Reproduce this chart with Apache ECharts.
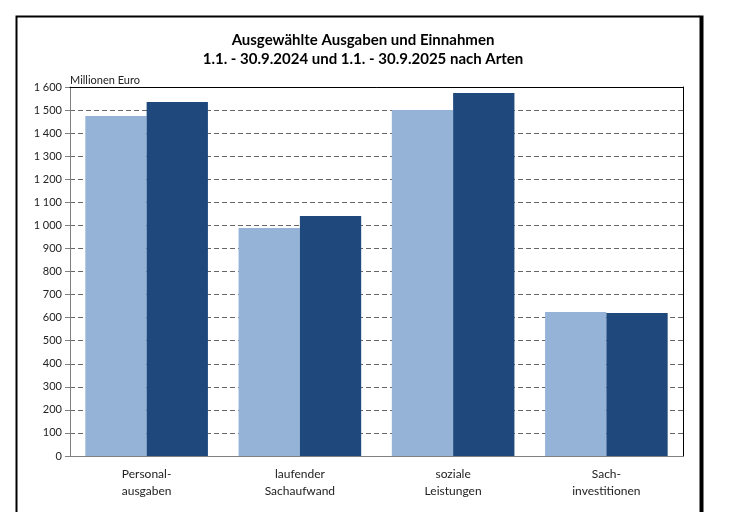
<!DOCTYPE html>
<html>
<head>
<meta charset="utf-8">
<script src="https://cdn.jsdelivr.net/npm/echarts@6/dist/echarts.min.js"></script>
<style>
  html, body { margin: 0; padding: 0; background: #fff; }
  #chart { width: 732px; height: 512px; }
</style>
</head>
<body>
<div id="chart"></div>
<script>
// Kategorien und Werte (Millionen Euro)
var categories = ['Personal-\nausgaben', 'laufender\nSachaufwand', 'soziale\nLeistungen', 'Sach-\ninvestitionen'];
var werte2024 = [1474, 989, 1500, 624];
var werte2025 = [1535, 1041, 1574, 620];
var seriesNames = ['1.1. - 30.9.2024', '1.1. - 30.9.2025'];

var font = 'Lato, "Open Sans", sans-serif';

var myChart = echarts.init(document.getElementById('chart'));
var option = {
  animation: false,
  textStyle: { fontFamily: font },
  title: {
    text: 'Ausgewählte Ausgaben und Einnahmen\n1.1. - 30.9.2024 und 1.1. - 30.9.2025 nach Arten',
    left: 358,
    textAlign: 'center',
    top: 26,
    textStyle: { fontSize: 15, fontWeight: 'bold', color: '#000', lineHeight: 19, fontFamily: font }
  },
  graphic: [
    {
      // äußerer Rahmen
      type: 'polyline',
      shape: { points: [[16.5, 520], [16.5, 16.5], [700, 16.5]] },
      style: { stroke: '#000', lineWidth: 2, fill: null }
    },
    {
      type: 'line',
      shape: { x1: 701.5, y1: 15.5, x2: 701.5, y2: 520 },
      style: { stroke: '#000', lineWidth: 4 }
    }
  ],
  grid: {
    left: 70, right: 49, top: 87, bottom: 56
  },
  xAxis: [
    {
      type: 'category',
      data: categories,
      axisLine: { lineStyle: { color: '#808080', width: 1 } },
      axisTick: { show: false },
      axisLabel: { color: '#222', fontSize: 12, lineHeight: 17, margin: 10, fontFamily: font }
    },
    {
      // obere Rahmenlinie
      type: 'category',
      position: 'top',
      z: 5,
      data: categories,
      axisLine: { onZero: false, lineStyle: { color: '#000', width: 1 } },
      axisTick: { show: false },
      axisLabel: { show: false }
    }
  ],
  yAxis: [
    {
      type: 'value',
      min: 0,
      max: 1600,
      interval: 100,
      name: 'Millionen Euro',
      nameLocation: 'end',
      nameGap: 1,
      nameTextStyle: { align: 'left', color: '#222', fontSize: 11, padding: [0, 0, 0, 0], fontFamily: font },
      axisLine: { show: true, onZero: false, lineStyle: { color: '#808080', width: 1 } },
      axisTick: { show: true, length: 5, lineStyle: { color: '#808080' } },
      axisLabel: {
        color: '#222', fontSize: 11, margin: 8, fontFamily: font,
        formatter: function (v) { return String(v).replace(/\B(?=(\d{3})+(?!\d))/g, ' '); }
      },
      splitLine: { lineStyle: { color: '#666', type: [5, 3], width: 1 } }
    },
    {
      // rechte Rahmenlinie
      type: 'value',
      position: 'right',
      z: 5,
      min: 0,
      max: 1600,
      interval: 100,
      axisLine: { show: true, onZero: false, lineStyle: { color: '#000', width: 1 } },
      axisTick: { show: false },
      axisLabel: { show: false },
      splitLine: { show: false }
    }
  ],
  series: [
    {
      name: seriesNames[0],
      type: 'bar',
      data: werte2024,
      barGap: '0%',
      barCategoryGap: '20%',
      itemStyle: { color: '#95B3D7' }
    },
    {
      name: seriesNames[1],
      type: 'bar',
      data: werte2025,
      barGap: '0%',
      barCategoryGap: '20%',
      itemStyle: { color: '#1F497D' }
    }
  ]
};
myChart.setOption(option);
</script>
</body>
</html>
